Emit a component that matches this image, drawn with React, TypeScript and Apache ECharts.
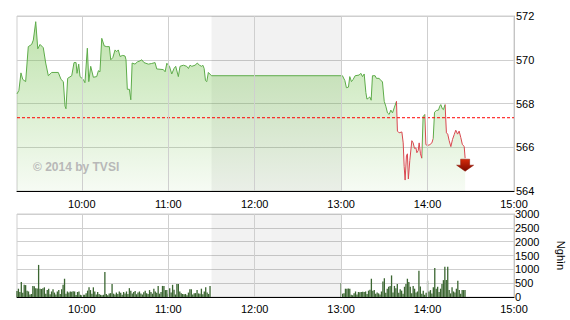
import React, { useEffect, useRef } from 'react';
import * as echarts from 'echarts';

// Intraday index ticks (time, value)
const priceTimes = [
  '09:15:00', '09:16:20', '09:17:45', '09:19:00', '09:21:00', '09:22:50', '09:25:10', '09:26:20',
  '09:28:00', '09:29:25', '09:31:00', '09:33:15', '09:34:55', '09:36:45', '09:39:05', '09:43:40',
  '09:45:35', '09:47:10', '09:48:20', '09:49:00', '09:50:10', '09:53:00', '09:54:35', '09:56:00',
  '09:56:40', '09:57:50', '09:58:45', '10:01:00', '10:02:10', '10:03:50', '10:04:50', '10:06:10',
  '10:08:00', '10:10:20', '10:11:30', '10:12:35', '10:13:50', '10:15:35', '10:17:20', '10:19:05',
  '10:20:05', '10:21:30', '10:23:05', '10:24:10', '10:25:20', '10:26:30', '10:28:25', '10:30:00',
  '10:30:40', '10:31:35', '10:33:00', '10:34:00', '10:34:55', '10:36:55', '10:38:30', '10:40:25',
  '10:41:35', '10:43:10', '10:46:10', '10:48:30', '10:50:50', '10:52:00', '10:56:35', '10:57:50',
  '10:59:00', '11:00:50', '11:02:25', '11:04:00', '11:05:10', '11:07:00', '11:08:10', '11:10:30',
  '11:12:50', '11:14:00', '11:15:05', '11:16:20', '11:18:35', '11:20:10', '11:21:35', '11:23:15',
  '11:24:00', '11:24:55', '11:25:50', '11:26:45', '11:27:50', '11:30:00',
  '13:00:00', '13:00:55', '13:02:35', '13:03:40', '13:05:05', '13:06:00', '13:07:10', '13:08:20',
  '13:09:45', '13:12:30', '13:13:40', '13:14:50', '13:16:00', '13:17:10', '13:17:55', '13:19:00',
  '13:19:55', '13:20:50', '13:21:45', '13:23:35', '13:24:30', '13:26:25', '13:27:35', '13:28:40',
  '13:29:55', '13:31:00', '13:32:10', '13:33:20', '13:34:30', '13:35:40', '13:36:50', '13:38:25',
  '13:39:05', '13:40:15', '13:42:10', '13:43:05', '13:43:45', '13:44:25', '13:45:20', '13:46:00',
  '13:46:40', '13:47:40', '13:49:05', '13:50:00', '13:50:55', '13:51:55', '13:52:35', '13:53:30',
  '13:54:10', '13:55:05', '13:56:00', '13:56:55', '13:58:05', '13:58:50', '13:59:55', '14:01:35',
  '14:03:00', '14:03:55', '14:04:50', '14:06:10', '14:07:35', '14:08:30', '14:09:10', '14:10:20',
  '14:11:00', '14:12:10', '14:13:05', '14:14:00', '14:15:00', '14:16:10', '14:17:20', '14:18:30',
  '14:19:35', '14:20:50', '14:21:55', '14:23:05', '14:24:10', '14:25:25', '14:26:05',
];

const priceValues = [
  568.44, 568.6, 569.4, 569.1, 569.0, 570.6, 570.7, 570.9,
  571.74, 570.5, 570.7, 570.55, 569.85, 569.27, 569.42, 569.42,
  569.1, 569.0, 567.88, 567.76, 569.15, 569.27, 569.87, 569.87,
  569.38, 569.8, 569.23, 569.1, 568.95, 570.53, 569.0, 569.7,
  569.2, 569.23, 569.5, 569.45, 570.98, 570.63, 570.6, 570.6,
  570.0, 570.1, 570.45, 570.37, 570.45, 570.15, 570.2, 570.17,
  570.0, 568.65, 568.65, 568.17, 569.85, 569.8, 569.9, 569.95,
  570.0, 569.87, 569.8, 569.83, 569.87, 569.58, 569.55, 569.45,
  569.84, 569.7, 569.35, 569.6, 569.7, 569.23, 569.7, 569.75,
  569.7, 569.6, 569.75, 569.7, 569.75, 569.85, 569.75, 569.7,
  569.75, 569.6, 569.05, 569.0, 569.42, 569.27,
  569.27, 569.27, 569.05, 568.72, 568.75, 569.23, 569.0, 569.1,
  569.27, 569.3, 569.38, 569.23, 569.35, 568.5, 568.2, 568.25,
  568.3, 568.15, 569.27, 569.27, 569.15, 569.15, 569.05, 569.0,
  568.1, 567.88, 567.57, 567.5, 567.7, 567.57, 567.8, 568.1,
  566.74, 566.66, 566.7, 566.2, 565.13, 564.5, 565.6, 565.7,
  564.55, 565.4, 566.3, 566.2, 565.95, 565.97, 565.75, 565.85,
  566.2, 565.7, 565.5, 567.4, 567.5, 566.12, 566.08, 566.12,
  566.2, 566.4, 567.6, 567.68, 567.7, 567.88, 567.95, 567.75,
  567.72, 567.95, 566.66, 566.6, 566.3, 566.03, 566.36, 566.58,
  566.78, 566.6, 566.74, 566.44, 566.12, 566.04, 565.5,
];

// Previous close
const referencePrice = 567.35;

// Matched volume per minute (thousand shares)
const morningStart = '09:15';
const morningVolumes = [
  220, 300, 180, 540, 150, 440, 430, 230, 200, 90, 110, 400, 390, 320, 310, 1160,
  300, 290, 320, 350, 120, 250, 300, 100, 200, 280, 160, 90, 200, 250, 110, 280,
  440, 660, 120, 200, 160, 200, 190, 210, 200, 70, 180, 200, 80, 60, 80, 80,
  140, 230, 350, 250, 120, 350, 200, 90, 180, 110, 80, 60, 80, 900, 110, 60,
  130, 140, 470, 120, 90, 160, 110, 200, 150, 80, 180, 130, 200, 110, 320, 230,
  130, 180, 220, 100, 160, 200, 130, 90, 170, 230, 140, 110, 250, 180, 120, 300,
  200, 150, 400, 120, 180, 400, 400, 250, 250, 120, 320, 160, 440, 260, 90, 470,
  470, 200, 140, 110, 100, 110, 60, 160, 280, 280, 90, 140, 140, 250, 130, 120,
  300, 100, 200, 350, 160, 110, 400,
];
const afternoonStart = '13:00';
const afternoonVolumes = [
  500, 120, 140, 300, 300, 310, 300, 80, 60, 140, 200, 90, 180, 170, 180, 190,
  180, 200, 110, 230, 260, 660, 230, 250, 120, 160, 130, 90, 200, 560, 680, 150,
  300, 370, 400, 780, 160, 400, 320, 470, 150, 280, 230, 120, 370, 470, 660, 540,
  370, 140, 400, 300, 160, 200, 950, 380, 120, 230, 80, 150, 590, 200, 250, 130,
  350, 1045, 300, 370, 180, 300, 470, 610, 1090, 610, 1090, 250, 130, 350, 200, 160,
  300, 590, 250, 120, 250, 250, 250,
];

const sessionRange = ['09:15', '15:00'];
const hourLines = ['10:00', '11:00', '12:00', '13:00', '14:00'];
const lunchBreak = ['11:30', '13:00'];
const watermark = '\u00a9 2014 by TVSI';
const volumeUnit = 'Nghìn';

const GREEN = '#5dab49';
const RED = '#d9474f';
const GRID_GRAY = '#cfcfcf';
const FONT = '"Liberation Sans Narrow", "Liberation Sans", Arial, sans-serif';

function toMinutes(s: string): number {
  const [h, m, sec] = s.split(':').map(Number);
  return h * 60 + m + (sec || 0) / 60;
}

function hhmm(v: number): string {
  const h = Math.floor(v / 60);
  const m = Math.round(v - h * 60);
  return `${h}:${m < 10 ? '0' : ''}${m}`;
}

export default function App() {
  const ref = useRef<HTMLDivElement>(null);

  useEffect(() => {
    if (!ref.current) return;
    const chart = echarts.init(ref.current, undefined, { renderer: 'svg' });

    const xMin = toMinutes(sessionRange[0]);
    const xMax = toMinutes(sessionRange[1]);
    const priceMin = priceTimes.map(toMinutes);
    const priceData = priceMin.map((t, i) => [t, priceValues[i]]);

    // Colour each segment by whether it ends above or below the previous close
    const pieces: any[] = [];
    let runStart = 0;
    let runColor: string | null = null;
    for (let i = 1; i < priceMin.length; i++) {
      const c = priceValues[i] >= referencePrice ? GREEN : RED;
      if (runColor === null) runColor = c;
      else if (c !== runColor) {
        pieces.push({ gte: runStart, lt: priceMin[i - 1], color: runColor });
        runStart = priceMin[i - 1];
        runColor = c;
      }
    }
    pieces.push({ gte: runStart, lte: 100000, color: runColor });

    const mStart = toMinutes(morningStart);
    const aStart = toMinutes(afternoonStart);
    const volumeData = [
      ...morningVolumes.map((v, i) => [mStart + i, v]),
      ...afternoonVolumes.map((v, i) => [aStart + i, v]),
    ];

    const last = priceData[priceData.length - 1];

    const vLines = hourLines.map((h) => ({
      xAxis: toMinutes(h),
      lineStyle: { color: GRID_GRAY, width: 1, type: 'solid' },
    }));
    const band = [[{ xAxis: toMinutes(lunchBreak[0]) }, { xAxis: toMinutes(lunchBreak[1]) }]];

    const xAxisBase = (gridIndex: number, margin: number) => ({
      type: 'value',
      gridIndex,
      min: xMin,
      max: xMax,
      interval: 15,
      axisLine: { show: true, onZero: false, lineStyle: { color: '#000', width: 1 } },
      axisTick: { show: false },
      splitLine: { show: false },
      axisLabel: {
        formatter: (v: number) => (Math.abs(v % 60) < 1e-6 ? hhmm(v) : ''),
        color: '#000',
        fontSize: 11,
        fontFamily: FONT,
        margin,
        showMinLabel: true,
        showMaxLabel: true,
        hideOverlap: false,
      },
    });

    chart.setOption({
      animation: false,
      backgroundColor: '#ffffff',
      grid: [
        {
          left: 17, top: 16, width: 497, height: 175, show: true,
          borderColor: GRID_GRAY, borderWidth: 1, outerBoundsMode: 'none', containLabel: false,
        },
        {
          left: 17, top: 214, width: 497, height: 83, show: true,
          borderColor: GRID_GRAY, borderWidth: 1, outerBoundsMode: 'none', containLabel: false,
        },
      ],
      xAxis: [xAxisBase(0, 7), xAxisBase(1, 6)],
      yAxis: [
        {
          type: 'value',
          gridIndex: 0,
          position: 'right',
          min: 564,
          max: 572,
          interval: 2,
          axisLine: { show: true, lineStyle: { color: '#c4c4c4' } },
          axisTick: { show: false },
          splitLine: { show: true, lineStyle: { color: GRID_GRAY, width: 1 } },
          axisLabel: { margin: 2, color: '#000', fontSize: 11, fontFamily: FONT },
        },
        {
          type: 'value',
          gridIndex: 1,
          position: 'right',
          min: 0,
          max: 3000,
          interval: 500,
          name: volumeUnit,
          nameLocation: 'middle',
          nameRotate: -90,
          nameGap: 41,
          nameTextStyle: { color: '#000', fontSize: 11, fontFamily: FONT },
          axisLine: { show: true, lineStyle: { color: '#c4c4c4' } },
          axisTick: { show: false },
          splitLine: { show: true, lineStyle: { color: GRID_GRAY, width: 1 } },
          axisLabel: {
            margin: 1,
            color: '#000',
            fontSize: 11,
            fontFamily: FONT,
            formatter: (v: number) => String(v),
          },
        },
      ],
      visualMap: {
        type: 'piecewise',
        show: false,
        dimension: 0,
        seriesIndex: 0,
        pieces,
      },
      graphic: [
        {
          type: 'text',
          left: 33,
          top: 161,
          z: 50,
          style: {
            text: watermark,
            fill: '#b8b8b8',
            fontSize: 12,
            fontWeight: 'bold',
            fontFamily: '"Liberation Sans", Arial, sans-serif',
          },
        },
      ],
      series: [
        {
          name: 'VN-Index',
          type: 'line',
          xAxisIndex: 0,
          yAxisIndex: 0,
          data: priceData,
          showSymbol: false,
          symbol: 'none',
          lineStyle: { width: 1 },
          z: 3,
          areaStyle: {
            origin: 'start',
            opacity: 1,
            color: new echarts.graphic.LinearGradient(0, 0, 0, 1, [
              { offset: 0, color: 'rgba(112,192,72,0.45)' },
              { offset: 1, color: 'rgba(112,192,72,0.06)' },
            ]),
          },
        },
        {
          // Previous close, dashed across the whole session
          name: 'Tham chiếu',
          type: 'line',
          xAxisIndex: 0,
          yAxisIndex: 0,
          data: [[xMin, referencePrice], [xMax, referencePrice]],
          showSymbol: false,
          symbol: 'none',
          z: 4,
          lineStyle: { color: '#ff0000', width: 1, type: [3, 2] },
          itemStyle: { color: '#ff0000' },
          markArea: {
            silent: true,
            itemStyle: { color: 'rgba(0,0,0,0.05)' },
            data: band,
          },
          markLine: {
            silent: true,
            symbol: 'none',
            label: { show: false },
            data: vLines,
          },
          markPoint: {
            silent: true,
            symbol: 'path://M4,0L13,0L13,6L17,6L8.5,12L0,6L4,6Z',
            symbolSize: [17, 12],
            symbolOffset: [0, 7],
            label: { show: false },
            itemStyle: {
              color: new echarts.graphic.LinearGradient(0, 0, 0, 1, [
                { offset: 0, color: '#d62a0a' },
                { offset: 1, color: '#7a0a00' },
              ]),
              borderColor: '#8a1000',
              borderWidth: 0.5,
            },
            data: [{ coord: last }],
          },
        },
        {
          name: 'Volume',
          type: 'bar',
          xAxisIndex: 1,
          yAxisIndex: 1,
          data: volumeData,
          barWidth: 1.3,
          itemStyle: { color: '#3b6631' },
          markArea: {
            silent: true,
            itemStyle: { color: 'rgba(0,0,0,0.05)' },
            data: band,
          },
          markLine: {
            silent: true,
            symbol: 'none',
            label: { show: false },
            data: vLines,
          },
        },
      ],
    });

    return () => chart.dispose();
  }, []);

  return (
    <div
      ref={ref}
      style={{ position: 'fixed', left: 0, top: 0, width: 570, height: 320, background: '#fff' }}
    />
  );
}
